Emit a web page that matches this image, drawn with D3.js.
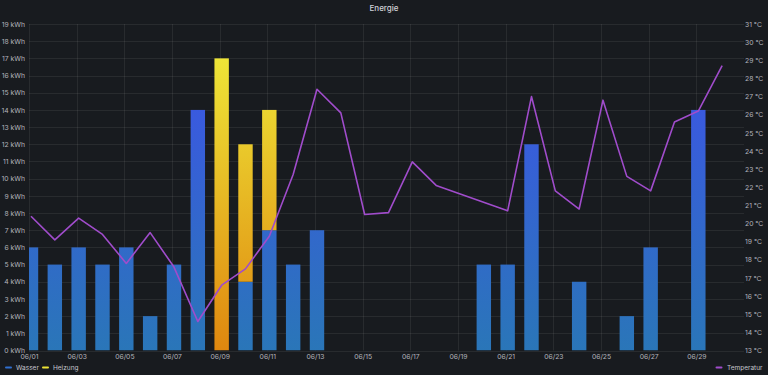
<!DOCTYPE html>
<html><head><meta charset="utf-8">
<script src="https://cdn.jsdelivr.net/npm/d3@7"></script>
<style>
html,body{margin:0;padding:0;background:#181b1f;}
svg{display:block;font-family:Inter,"Noto Sans",sans-serif;}
</style></head>
<body>
<svg id="chart" width="768" height="375"></svg>
<script>
// ---- data ----
const dates = ["2023-06-01","2023-06-02","2023-06-03","2023-06-04","2023-06-05","2023-06-06","2023-06-07","2023-06-08","2023-06-09","2023-06-10",
  "2023-06-11","2023-06-12","2023-06-13","2023-06-14","2023-06-15","2023-06-16","2023-06-17","2023-06-18","2023-06-19","2023-06-20",
  "2023-06-21","2023-06-22","2023-06-23","2023-06-24","2023-06-25","2023-06-26","2023-06-27","2023-06-28","2023-06-29","2023-06-30"];
const wasser  = [6,5,6,5,6,2,5,14,0,4,7,5,7,0,0,0,0,0,0,5,5,12,0,4,0,2,6,0,14];
const heizung = [0,0,0,0,0,0,0,0,17,8,7,0,0,0,0,0,0,0,0,0,0,0,0,0,0,0,0,0,0];
const temperatur = [20.4,19.1,20.3,19.4,17.8,19.5,17.6,14.6,16.6,17.5,19.3,22.7,27.4,26.1,20.5,20.6,23.4,22.1,null,null,
  20.7,27.0,21.8,20.8,26.8,22.6,21.8,25.6,26.2,28.7];
const tickLabels = ["06/01","06/03","06/05","06/07","06/09","06/11","06/13","06/15","06/17","06/19","06/21","06/23","06/25","06/27","06/29"];
const kwhTicks = d3.range(0,20);
const tempTicks = d3.range(13,32);

// ---- layout ----
const W = 768, H = 375;
const m = {left:29, right:744, top:24, bottom:350.5};
const svg = d3.select("#chart");

// data timestamps are UTC midnight; axis is local time (UTC+2)
const t0 = new Date(Date.UTC(2023,4,31,22));
const t1 = new Date(Date.UTC(2023,5,30,22));
const x = d3.scaleUtc().domain([t0,t1]).range([m.left,m.right]);
const yL = d3.scaleLinear().domain([0,19]).range([m.bottom,m.top]);
const yR = d3.scaleLinear().domain([13,31]).range([m.bottom,m.top]);
const parse = s => new Date(s+"T00:00:00Z");
const times = dates.map(parse);
const dayW = x(new Date(t0.getTime()+864e5)) - x(t0);
const barW = dayW*0.605;

// defs
const defs = svg.append("defs");
defs.append("clipPath").attr("id","clip").append("rect")
  .attr("x",m.left).attr("y",m.top-2).attr("width",m.right-m.left).attr("height",m.bottom-m.top+2);
const gBlue = defs.append("linearGradient").attr("id","gBlue").attr("gradientUnits","userSpaceOnUse")
  .attr("x1",0).attr("x2",0).attr("y1",yL(0)).attr("y2",yL(19));
gBlue.append("stop").attr("offset","0%").attr("stop-color","#2a76b8");
gBlue.append("stop").attr("offset","100%").attr("stop-color","#3f50ec");
const gYel = defs.append("linearGradient").attr("id","gYel").attr("gradientUnits","userSpaceOnUse")
  .attr("x1",0).attr("x2",0).attr("y1",yL(0)).attr("y2",yL(17));
gYel.append("stop").attr("offset","0%").attr("stop-color","#df870f");
gYel.append("stop").attr("offset","100%").attr("stop-color","#eee537");

// title
svg.append("text").attr("x",W/2).attr("y",11).attr("text-anchor","middle")
  .attr("fill","#d0d1d8").attr("font-size",8).attr("font-weight",500).text("Energie");

// grid
const grid = svg.append("g").attr("stroke","#ffffff").attr("stroke-opacity",0.07).attr("stroke-width",1);
kwhTicks.forEach(v=>{
  grid.append("line").attr("x1",m.left).attr("x2",m.right).attr("y1",Math.round(yL(v))+0.5).attr("y2",Math.round(yL(v))+0.5);
});
const tickTimes = tickLabels.map((l,i)=>new Date(t0.getTime()+i*2*864e5));
tickTimes.forEach(t=>{
  grid.append("line").attr("x1",Math.round(x(t))+0.5).attr("x2",Math.round(x(t))+0.5).attr("y1",m.top).attr("y2",m.bottom);
});

// left axis labels
const axL = d3.axisLeft(yL).tickValues(kwhTicks).tickFormat(d=>d+" kWh").tickSize(0).tickPadding(4);
const gL = svg.append("g").attr("transform",`translate(${m.left},0)`).call(axL);
gL.select(".domain").remove();
gL.selectAll("text").attr("fill","#b3b4bc").attr("font-size",6.8).attr("font-family","Inter,sans-serif");

// right axis labels
const axR = d3.axisRight(yR).tickValues(tempTicks).tickFormat(d=>d+" °C").tickSize(0).tickPadding(1);
const gR = svg.append("g").attr("transform",`translate(${m.right},0)`).call(axR);
gR.select(".domain").remove();
gR.selectAll("text").attr("fill","#b3b4bc").attr("font-size",6.8).attr("font-family","Inter,sans-serif");

// bottom axis
const axB = d3.axisBottom(x).tickValues(tickTimes).tickFormat((d,i)=>tickLabels[i]).tickSize(0).tickPadding(4);
const gB = svg.append("g").attr("transform",`translate(0,${m.bottom})`).call(axB);
gB.select(".domain").remove();
gB.selectAll("text").attr("fill","#b3b4bc").attr("font-size",6.8).attr("font-family","Inter,sans-serif");

// bars (stacked)
const rows = wasser.map((w,i)=>({t:times[i], Wasser:w, Heizung:heizung[i]}));
const stack = d3.stack().keys(["Wasser","Heizung"])(rows);
const plot = svg.append("g").attr("clip-path","url(#clip)");
const fills = {Wasser:"url(#gBlue)", Heizung:"url(#gYel)"};
stack.forEach(layer=>{
  plot.append("g").attr("fill",fills[layer.key]).selectAll("rect")
    .data(layer.filter(d=>d[1]-d[0]>0)).join("rect")
    .attr("x",d=>x(d.data.t)-barW/2).attr("width",barW)
    .attr("y",d=>yL(d[1])).attr("height",d=>yL(d[0])-yL(d[1]));
});

// temperature line (nulls connected)
const tData = temperatur.map((v,i)=>({t:times[i], v})).filter(d=>d.v!=null);
plot.append("path").datum(tData)
  .attr("fill","none").attr("stroke","#a04ccb").attr("stroke-width",1.6).attr("stroke-linejoin","round")
  .attr("d",d3.line().x(d=>x(d.t)).y(d=>yR(d.v)));

// legend
const leg = svg.append("g").attr("font-size",6.5).attr("fill","#c4c5cd");
const items = [{name:"Wasser",c:"#2f6fd0",x:5},{name:"Heizung",c:"#ece334",x:42}];
items.forEach(it=>{
  leg.append("rect").attr("x",it.x).attr("y",366.5).attr("width",7).attr("height",2).attr("rx",1).attr("fill",it.c);
  leg.append("text").attr("x",it.x+11).attr("y",370).text(it.name);
});
leg.append("rect").attr("x",715.5).attr("y",366.5).attr("width",7).attr("height",2).attr("rx",1).attr("fill","#a04ccb");
leg.append("text").attr("x",727).attr("y",370).text("Temperatur");
</script>
</body></html>
